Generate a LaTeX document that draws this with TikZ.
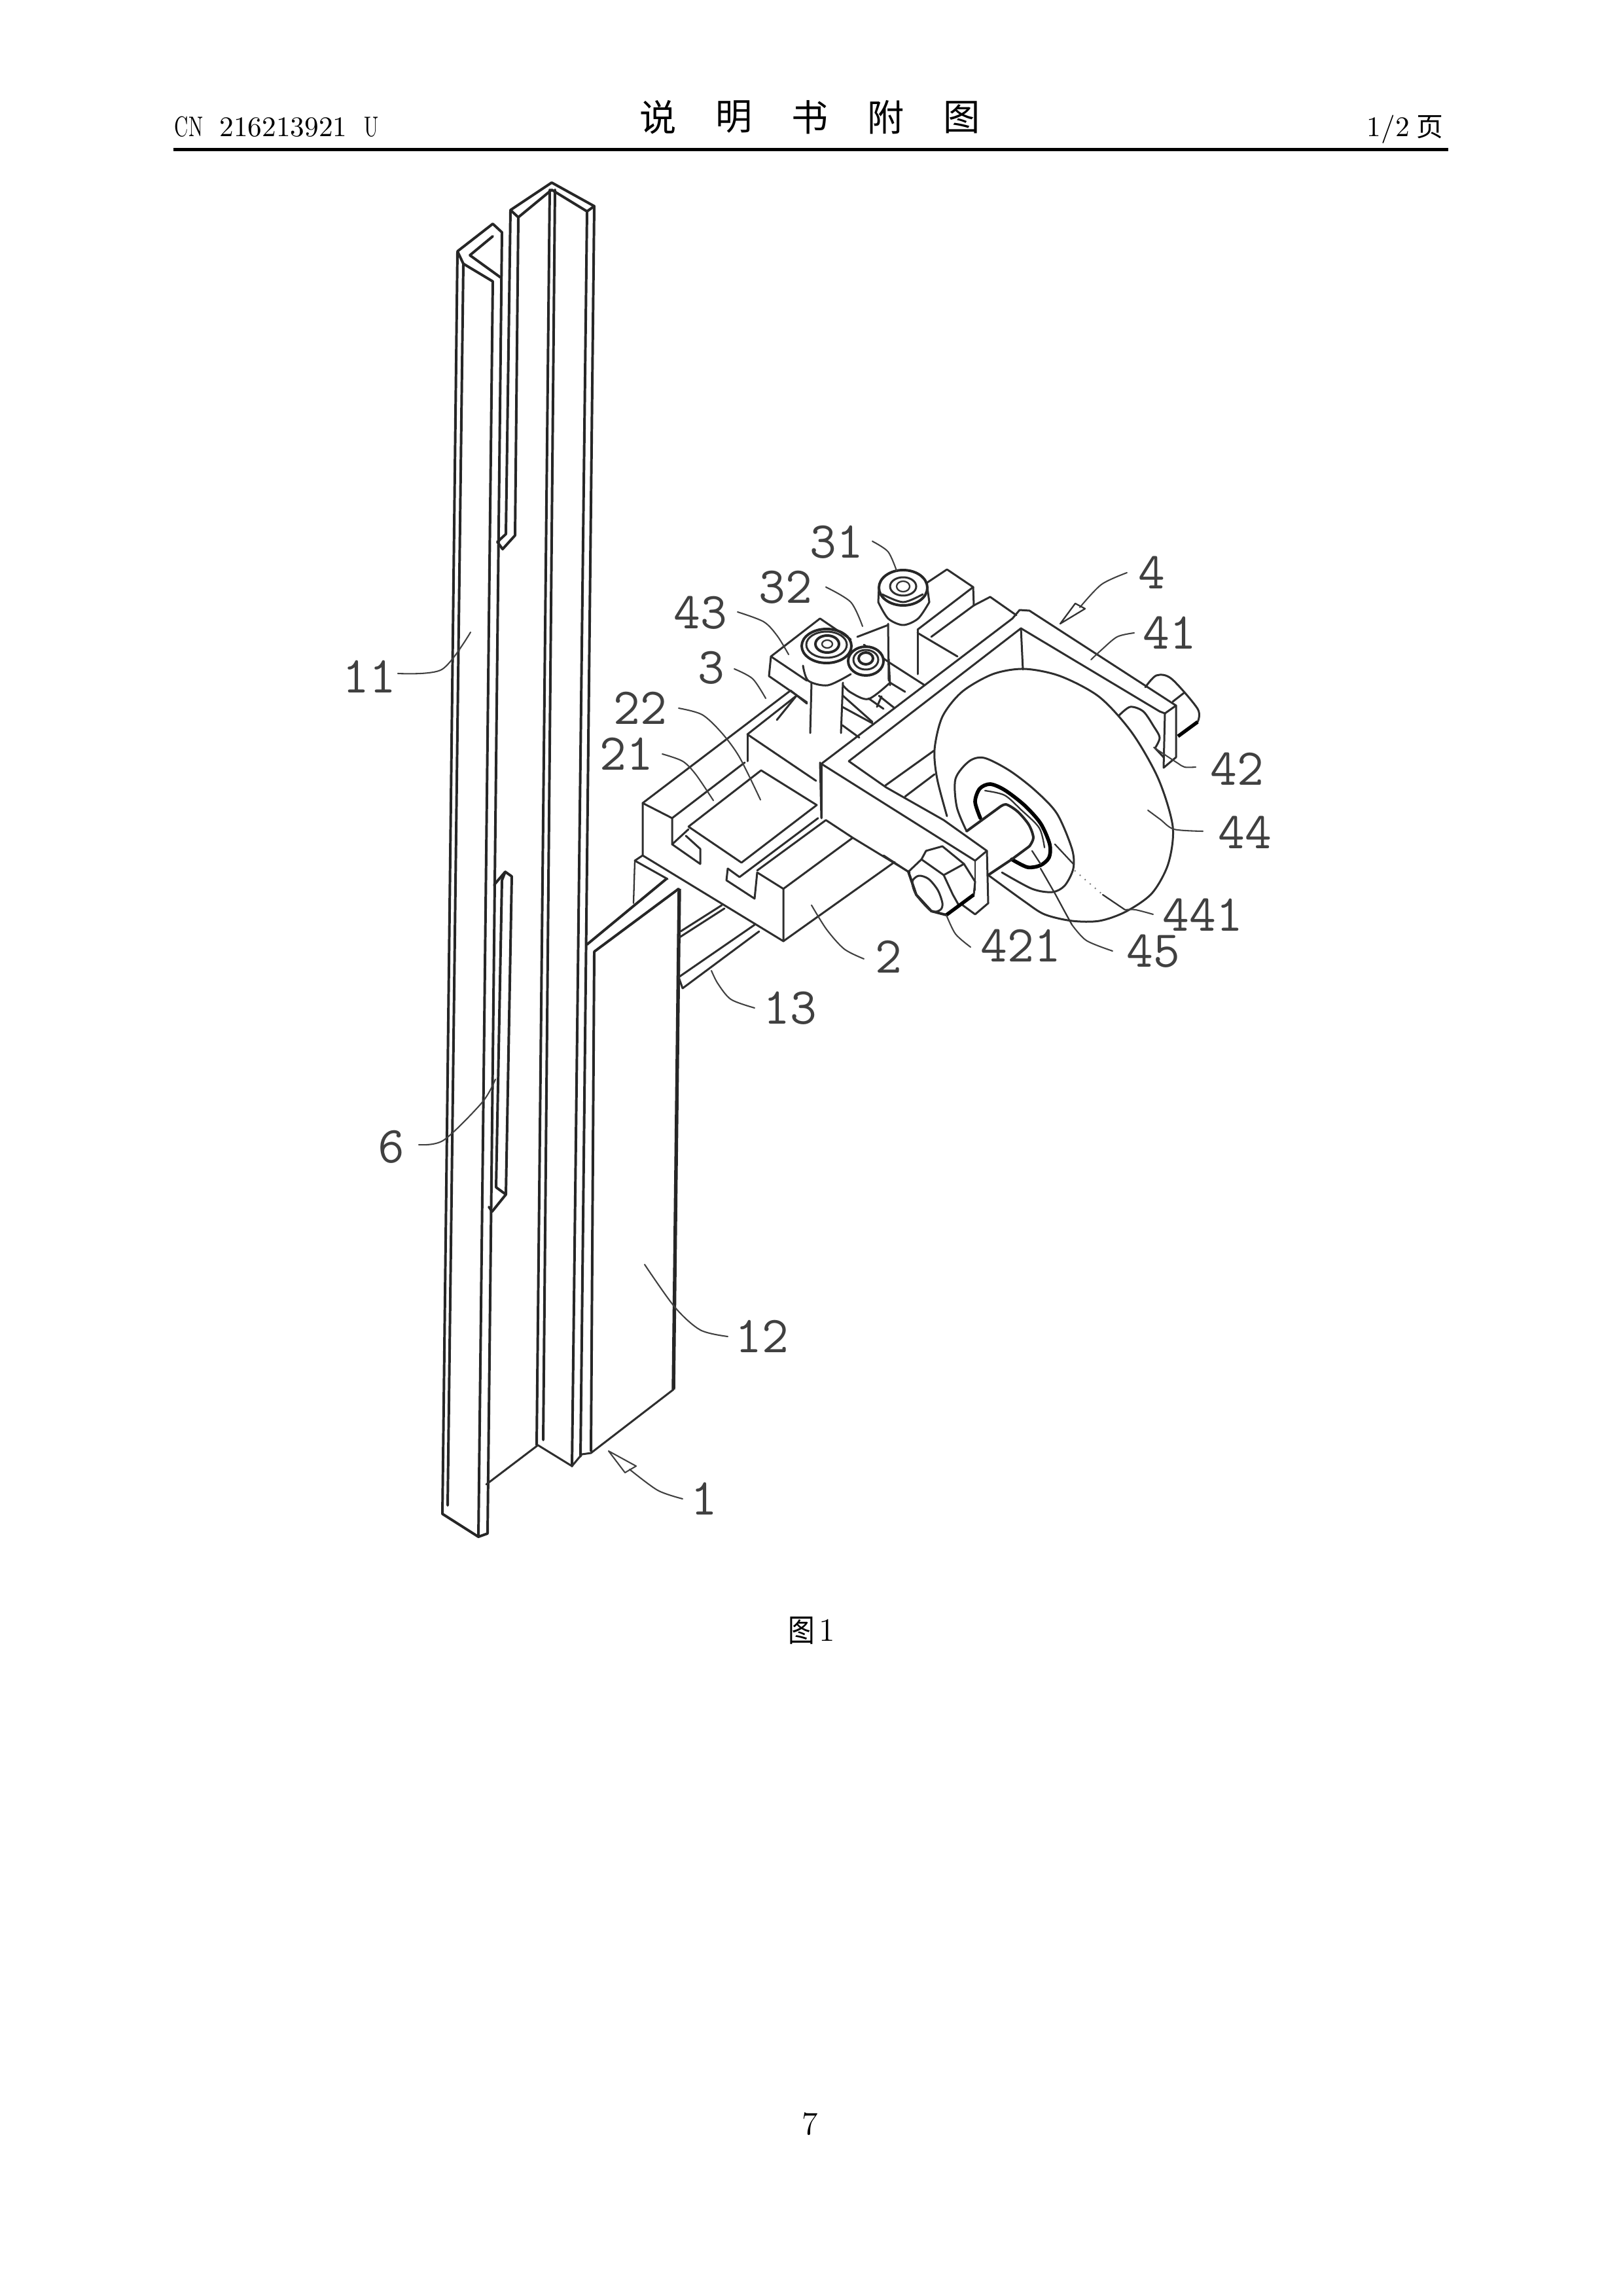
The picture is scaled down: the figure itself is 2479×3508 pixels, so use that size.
\documentclass[tikz,border=0pt]{standalone}
\usepackage{fontspec}
\newfontfamily\cjk{Noto Sans CJK SC}
\newfontfamily\cjkn[FakeStretch=0.85]{Noto Sans CJK SC}
\newfontfamily\narrowlm[FakeStretch=0.68]{Latin Modern Roman}
\setmonofont{Latin Modern Mono}
\tikzset{
  ln/.style={line width=0.72pt,black!82,line join=round,line cap=round},
  lnb/.style={line width=0.95pt,black!85,line join=round,line cap=round},
  thick ln/.style={line width=1.35pt,black,line join=round,line cap=round},
  fine/.style={line width=0.55pt,black!80,line join=round,line cap=round},
  lead/.style={line width=0.5pt,black!75,line join=round,line cap=round},
  faint/.style={line width=0.45pt,black!55,dotted},
  num/.style={font=\ttfamily\fontsize{19}{19}\selectfont,inner sep=0pt,black!75},
  hdr/.style={font=\fontsize{10.4}{10.4}\selectfont,inner sep=0pt,black},
  ttl/.style={font=\cjk\fontsize{13.5}{13.5}\selectfont,inner sep=0pt,black},
}
\begin{document}
\begin{tikzpicture}[x=0.24pt,y=-0.24pt]
\useasboundingbox (0,0) rectangle (2479,3508);
\fill[white] (0,0) rectangle (2479,3508);

% ---------- header ----------
\node[hdr,anchor=base west] (cn) at (266,209) {{\narrowlm CN}\ \hspace{2.6pt}216213921\ \hspace{2.8pt}{\narrowlm U}};
\node[ttl] (t1) at (1006,179) {说};
\node[ttl] (t2) at (1122,179) {明};
\node[ttl] (t3) at (1238,179) {书};
\node[ttl] (t4) at (1354,179) {附};
\node[ttl] (t5) at (1470,179) {图};
\node[hdr,anchor=base west] (pg) at (2088,209) {1/2};
\node[font=\cjk\fontsize{9.8}{9.8}\selectfont,inner sep=0pt] (pgc) at (2185,194) {页};
\fill[black] (265,226) rectangle (2213,231);

% ---------- left rail 11 ----------
\draw[lnb] (708,403) -- (699,384) -- (753,342) -- (767,355) -- (745,2343) -- (731,2348) -- (676,2313) -- (699,384);
\draw[lnb] (708,403) -- (684,2300);
\draw[lnb] (718,390) -- (753,361);
\draw[lnb] (718,390) -- (765,424);
\draw[lnb] (708,403) -- (753,430) -- (731,2348);

% ---------- centre rail ----------
\draw[lnb] (780,321) -- (843,279) -- (908,315) -- (887,2225);
\draw[lnb] (792,332) -- (843,290) -- (897,323) -- (874,2240);
\draw[lnb] (780,321) -- (792,332);
\draw[lnb] (908,315) -- (897,323);
\draw[lnb] (840,290) -- (820,2208);
\draw[lnb] (848,290) -- (830,2200);
% slot 1
\draw[lnb] (780,321) -- (773,816) -- (760,828);
\draw[lnb] (792,332) -- (787,818) -- (768,839) -- (760,828);
% slot 2
\draw[lnb] (755,1352) -- (772,1332) -- (782,1339) -- (773,1825) -- (752,1851) -- (747,1844);
\draw[lnb] (767,1345) -- (758,1814) -- (773,1825);
\draw[lnb] (772,1332) -- (767,1345);
% bottom
\draw[ln] (743,2268) -- (822,2208) -- (874,2240) -- (889,2222) -- (903,2220) -- (1029,2123);
% plate 12
\draw[lnb] (908,1454) -- (903,2217);
\draw[line width=1.3pt,black!85] (1038,1358) -- (1029,2123);
\draw[lnb] (897,1443) -- (1018,1343);
\draw[lnb] (908,1454) -- (1037,1358);
\draw[fine] (970,1315) -- (968,1380);
\draw[ln] (970,1315) -- (982,1307);
\draw[ln] (970,1315) -- (1020,1343);
% flanges 13
\draw[ln] (1040,1423) -- (1103,1383);
\draw[ln] (1037,1433) -- (1107,1388);
\draw[ln] (1037,1493) -- (1153,1413);
\draw[ln] (1043,1510) -- (1160,1423);
\draw[ln] (1037,1493) -- (1043,1510);

% ---------- bracket 2 ----------
\draw[ln] (982,1227) -- (982,1307) -- (1197,1438) -- (1197,1358);
\draw[ln] (1197,1438) -- (1367,1317);
\draw[ln] (982,1227) -- (1208,1055);
\draw[ln] (982,1227) -- (1027,1250) -- (1138,1165);
\draw[ln] (1052,1263) -- (1163,1177) -- (1248,1230) -- (1133,1318) -- (1052,1263);
\draw[ln] (1142,1122) -- (1142,1163);
\draw[ln] (1142,1122) -- (1217,1063);
\draw[ln] (1142,1122) -- (1247,1193);
\draw[ln] (1253,1165) -- (1255,1250);
\draw[ln] (1250,1250) -- (1130,1340);
\draw[ln] (1262,1253) -- (1157,1330);
% T-slot
\draw[ln] (1027,1250) -- (1027,1290) -- (1070,1320) -- (1070,1297) -- (1048,1277);
\draw[ln] (1027,1290) -- (1052,1267);
\draw[ln] (1112,1327) -- (1110,1345) -- (1153,1373) -- (1157,1333) -- (1197,1358) -- (1303,1280);
\draw[ln] (1112,1327) -- (1130,1340);
\draw[ln] (1262,1253) -- (1303,1280) -- (1390,1333);

% ---------- U bracket 4 ----------
\draw[ln] (1255,1167) -- (1547,945) -- (1558,932) -- (1573,933) -- (1797,1078);
\draw[ln] (1297,1163) -- (1560,960) -- (1772,1087);
\draw[ln] (1255,1167) -- (1255,1250);
\draw[ln] (1297,1163) -- (1354,1203) -- (1442,1253) -- (1508,1300) -- (1510,1380) -- (1490,1397) -- (1471,1383);
\draw[ln] (1255,1167) -- (1490,1315) -- (1508,1300);
\draw[fine] (1490,1315) -- (1490,1360);
\draw[ln] (1772,1087) -- (1780,1090) -- (1797,1078);
\draw[ln] (1780,1090) -- (1778,1173) -- (1797,1157) -- (1797,1078);
\draw[ln] (1560,960) -- (1563,1023);
\draw[ln] (1353,1200) -- (1427,1147);
\draw[ln] (1383,1217) -- (1428,1183);

% ---------- wheel 44 ----------
\draw[ln] plot[smooth] coordinates {(1447,1247) (1432,1190) (1428,1145) (1440,1095) (1470,1057) (1517,1030) (1565,1022) (1620,1033) (1680,1065) (1730,1120) (1770,1190) (1792,1263) (1785,1320) (1760,1365) (1720,1393) (1680,1407) (1638,1407) (1596,1397) (1565,1377) (1510,1337)};

% hub 45
\draw[ln] plot[smooth] coordinates {(1477,1270) (1462,1233) (1460,1190) (1481,1163) (1504,1158) (1542,1177) (1581,1207) (1615,1243) (1638,1297) (1640,1327) (1627,1353) (1608,1363) (1577,1358) (1531,1333)};
% bearing
\draw[thick ln] plot[smooth] coordinates {(1498,1250) (1490,1225) (1497,1205) (1513,1198) (1535,1207) (1565,1230) (1590,1258) (1604,1290) (1603,1310) (1590,1322) (1570,1325) (1546,1313)};
\draw[fine] plot[smooth] coordinates {(1505,1208) (1535,1215) (1560,1237) (1588,1265) (1596,1295)};
% shaft
\draw[lnb] (1477,1270) -- (1525,1235);
\draw[lnb] plot[smooth] coordinates {(1525,1235) (1537,1229) (1555,1240) (1572,1260) (1579,1280) (1573,1293)};
\draw[lnb] (1573,1293) -- (1546,1313) -- (1510,1337);
\draw[fine] (1577,1300) -- (1590,1320);
\draw[fine] (1590,1327) -- (1613,1367) -- (1627,1393) -- (1638,1413);
\draw[fine] (1612,1290) -- (1640,1320);
\draw[faint] (1642,1330) -- (1685,1367);
\draw[fine] (1685,1367) -- (1719,1390);

% ---------- nut 421 ----------
\draw[ln] (1350,1307) -- (1388,1332) -- (1408,1313) -- (1415,1300) -- (1440,1293) -- (1473,1320) -- (1490,1347) -- (1488,1367);
\draw[ln] (1408,1313) -- (1442,1337) -- (1456,1367) -- (1465,1383);
\draw[ln] (1442,1337) -- (1473,1320);
\draw[lnb] (1388,1332) -- (1400,1367) -- (1423,1392) -- (1446,1398);
\draw[line width=1.3pt,black] (1446,1398) -- (1488,1367);
\draw[ln] plot[smooth cycle] coordinates {(1394,1347) (1404,1338) (1419,1343) (1433,1360) (1440,1380) (1437,1390) (1423,1392) (1400,1367)};

% ---------- bolt 42 ----------
\draw[ln] plot[smooth] coordinates {(1750,1050) (1767,1032) (1790,1037) (1830,1083) (1830,1103)};
\draw[line width=1.3pt,black] (1830,1103) -- (1800,1125);
\draw[ln] (1792,1072) -- (1810,1058);
\draw[ln] plot[smooth] coordinates {(1710,1093) (1727,1080) (1747,1087) (1763,1110) (1772,1127) (1765,1143)};
\draw[ln] (1765,1143) -- (1778,1157);

% ---------- rear bar and bolts ----------
\draw[ln] (1417,890) -- (1447,870) -- (1487,897) -- (1402,962);
\draw[ln] (1487,897) -- (1488,925) -- (1423,973);
\draw[ln] (1488,925) -- (1513,912) -- (1553,940);
\draw[ln] (1402,962) -- (1402,1030);
\draw[ln] (1402,967) -- (1463,1003);
\draw[ln] (1320,985) -- (1360,1013) -- (1413,1047);
\draw[ln] (1360,1043) -- (1383,1057);
\draw[ln] (1287,1080) -- (1333,1105);
\draw[ln] (1287,1108) -- (1313,1127);
\draw[ln] (1327,1067) -- (1350,1083);
\draw[ln] (1343,1063) -- (1367,1082);
\draw[ln] (1347,1064) -- (1340,1080);
\draw[ln] (1310,973) -- (1357,955);

% bolt 31
\draw[lnb] (1380,898) ellipse [x radius=37,y radius=27];
\draw[ln] (1380,896) ellipse [x radius=20,y radius=14];
\draw[fine] (1380,896) ellipse [x radius=10,y radius=8];
\draw[ln] plot[smooth] coordinates {(1348,908) (1380,920) (1410,908)};
\draw[ln] (1343,898) -- (1342,920);
\draw[ln] (1417,898) -- (1420,920);
\draw[ln] plot[smooth] coordinates {(1342,920) (1357,945) (1380,955) (1403,945) (1420,920)};
\draw[ln] (1357,953) -- (1358,1040);

% plate under bolt 43
\draw[ln] (1178,1003) -- (1253,945) -- (1300,977);
\draw[ln] (1178,1003) -- (1233,1040);
\draw[ln] (1178,1003) -- (1175,1033) -- (1233,1073);
% bolt 43
\draw[lnb] (1263,987) ellipse [x radius=38,y radius=26];
\draw[ln] (1263,985) ellipse [x radius=31,y radius=20];
\draw[lnb] (1264,984) ellipse [x radius=18,y radius=13];
\draw[fine] (1264,984) ellipse [x radius=8,y radius=6];
\draw[ln] plot[smooth] coordinates {(1227,1017) (1235,1040) (1265,1047) (1300,1030)};
\draw[ln] (1240,1043) -- (1238,1120);
\draw[ln] (1288,1043) -- (1285,1120);
\draw[ln] (1208,1055) -- (1233,1075);
\draw[ln] (1187,1100) -- (1217,1063);
% bolt 32
\fill[white] (1323,1010) ellipse [x radius=27,y radius=22];
\draw[lnb] (1323,1010) ellipse [x radius=27,y radius=22];
\draw[ln] (1323,1008) ellipse [x radius=19,y radius=15];
\draw[lnb] (1323,1006) ellipse [x radius=11,y radius=9];
\draw[ln] (1358,1007) -- (1360,1047);
\draw[ln] plot[smooth] coordinates {(1288,1047) (1300,1058) (1327,1068) (1360,1043)};
\draw[ln] (1288,1063) -- (1333,1103);

% ---------- leaders ----------
\draw[lead] plot[smooth] coordinates {(1333,827) (1357,843) (1370,872)};
\draw[lead] plot[smooth] coordinates {(1262,897) (1300,920) (1318,957)};
\draw[lead] plot[smooth] coordinates {(1127,935) (1167,950) (1188,972) (1205,1000)};
\draw[lead] plot[smooth] coordinates {(1122,1022) (1150,1037) (1170,1067)};
\draw[lead] plot[smooth] coordinates {(1037,1082) (1073,1092) (1103,1120) (1130,1157) (1162,1222)};
\draw[lead] plot[smooth] coordinates {(1012,1152) (1043,1163) (1063,1183) (1090,1223)};
\draw[lead] plot[smooth] coordinates {(1722,875) (1683,893) (1650,928)};
\draw[fine] (1620,953) -- (1643,922) -- (1658,930) -- cycle;
\draw[lead] plot[smooth] coordinates {(1733,967) (1707,973) (1683,993) (1667,1008)};
\draw[lead] plot[smooth] coordinates {(1827,1172) (1810,1172) (1798,1165) (1763,1142)};
\draw[lead] plot[smooth] coordinates {(1838,1270) (1794,1267) (1773,1252) (1754,1238)};
\draw[lead] plot[smooth] coordinates {(1762,1397) (1735,1390) (1719,1390)};
\draw[lead] plot[smooth] coordinates {(1638,1413) (1660,1437) (1700,1453)};
\draw[lead] plot[smooth] coordinates {(1483,1447) (1460,1427) (1446,1398)};
\draw[lead] plot[smooth] coordinates {(1320,1465) (1290,1450) (1263,1420) (1240,1383)};
\draw[lead] plot[smooth] coordinates {(1153,1540) (1117,1527) (1097,1503) (1087,1483)};
\draw[lead] plot[smooth] coordinates {(1043,2290) (1005,2277) (962,2245)};
\draw[lead] (930,2217) -- (955,2250) -- (972,2240) -- cycle;
\draw[lead] plot[smooth] coordinates {(1112,2042) (1070,2032) (1031,1997) (985,1932)};
\draw[lead] plot[smooth] coordinates {(608,1029) (675,1023) (719,966)};
\draw[lead] plot[smooth] coordinates {(640,1749) (678,1742) (737,1684) (757,1649)};

% ---------- numbers ----------
\node[num] (n31) at (1278,828) {31};
\node[num] (n32) at (1200,897) {32};
\node[num] (n43) at (1070,936) {43};
\node[num] (n3) at (1087,1020) {3};
\node[num] (n22) at (978,1082) {22};
\node[num] (n21) at (957,1152) {21};
\node[num] (n4) at (1760,875) {4};
\node[num] (n41) at (1787,967) {41};
\node[num] (n42) at (1890,1175) {42};
\node[num] (n44) at (1902,1272) {44};
\node[num] (n441) at (1838,1398) {441};
\node[num] (n45) at (1762,1453) {45};
\node[num] (n421) at (1560,1445) {421};
\node[num] (n2) at (1358,1462) {2};
\node[num] (n13) at (1207,1540) {13};
\node[num] (n12) at (1164,2042) {12};
\node[num] (n1) at (1076,2290) {1};
\node[num] (n11) at (564,1034) {11};
\node[num] (n6) at (598,1752) {6};

% ---------- caption and page ----------
\node[font=\cjkn\fontsize{11.5}{11.5}\selectfont,inner sep=0pt] (fig) at (1225,2491) {图};
\node[font=\fontsize{12}{12}\selectfont,inner sep=0pt] (fign) at (1264,2491) {1};
\node[font=\fontsize{12}{12}\selectfont,inner sep=0pt] (pnum) at (1238,3245) {7};
\end{tikzpicture}
\end{document}
